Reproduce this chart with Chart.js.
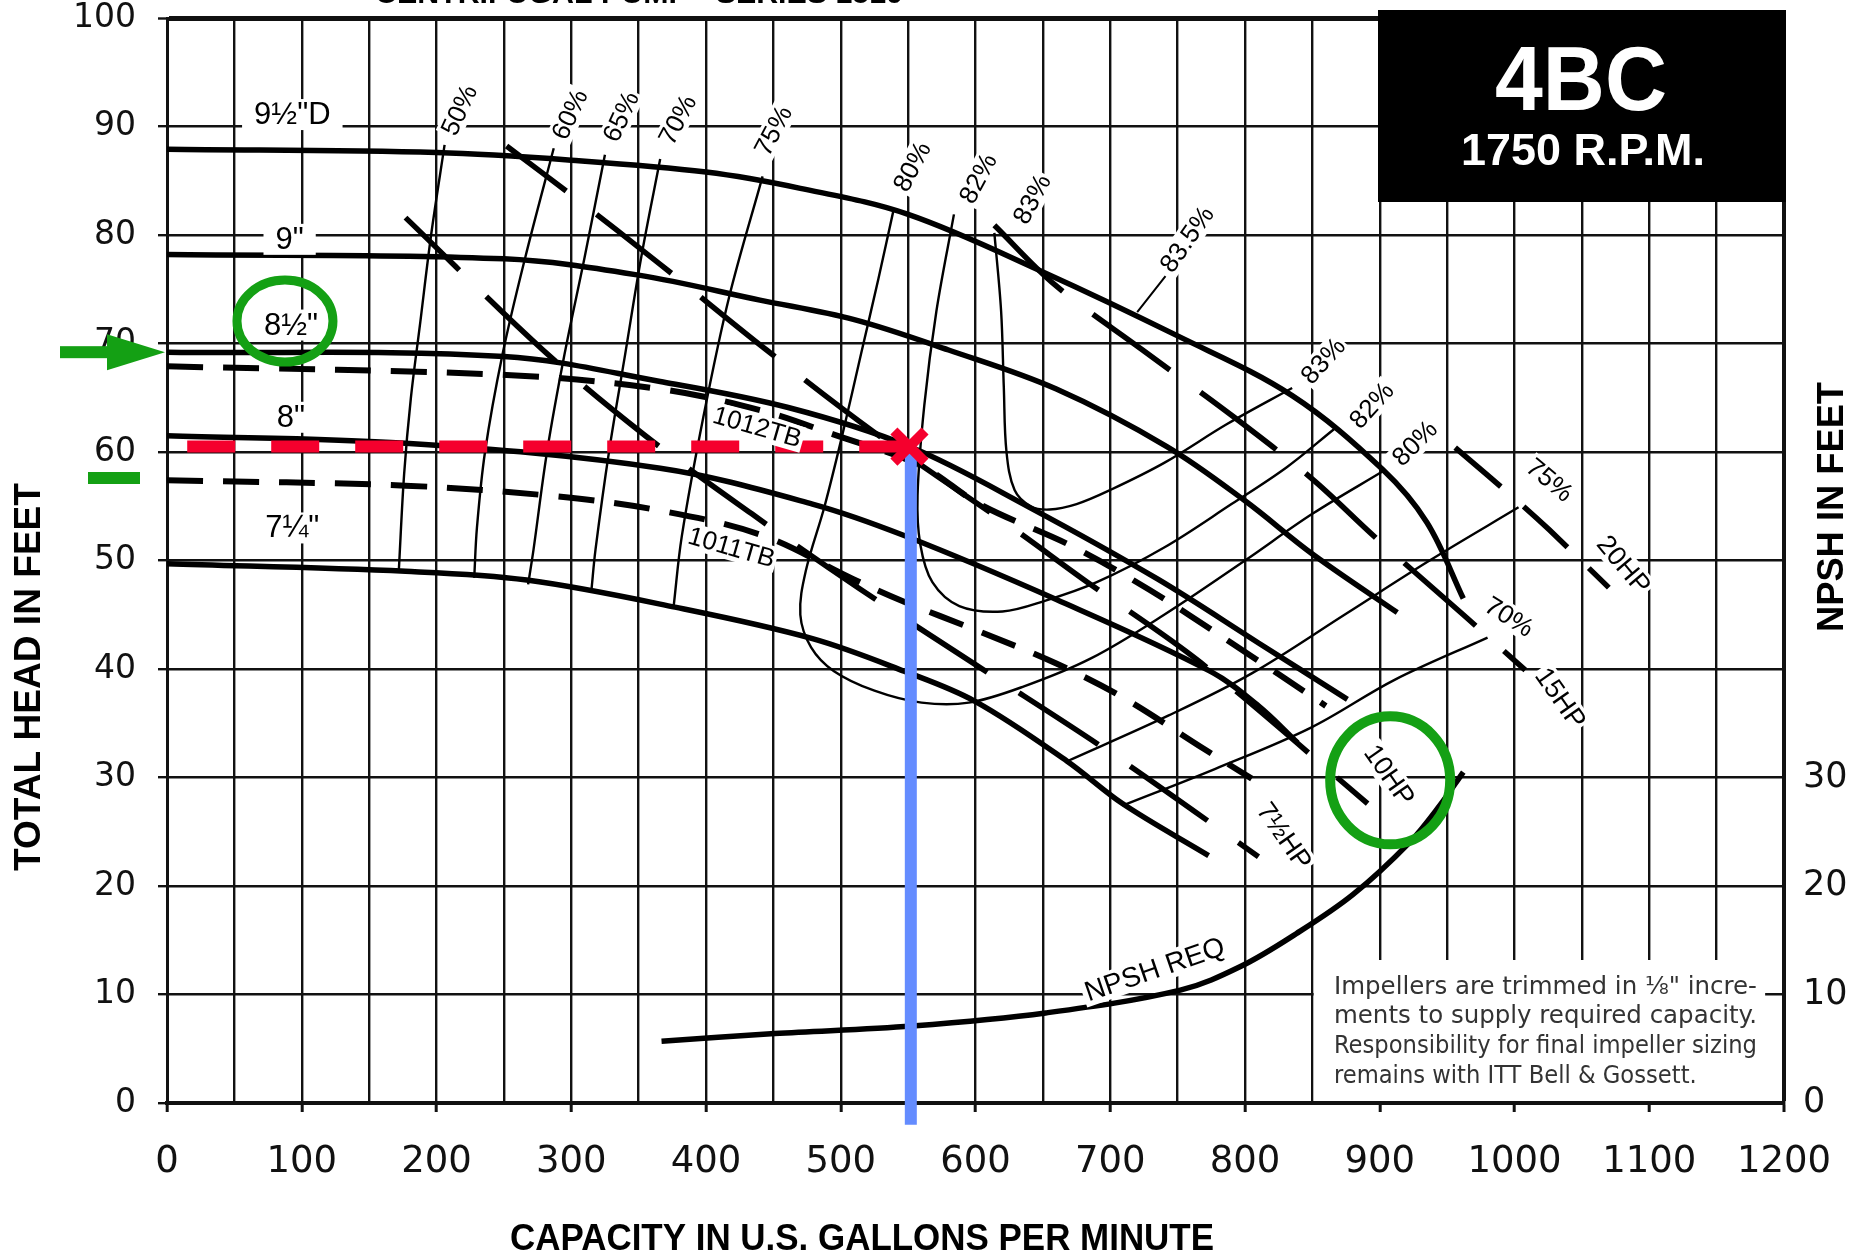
<!DOCTYPE html>
<html>
<head>
<meta charset="utf-8">
<script src="https://cdn.jsdelivr.net/npm/chart.js@4.4.1/dist/chart.umd.min.js"></script>
<style>
  html, body { margin: 0; padding: 0; background: #fff; }
  #wrap { width: 1870px; height: 1255px; }
</style>
</head>
<body>
<div id="wrap"><canvas id="pump" width="1870" height="1255"></canvas></div>
<script>
// grid / tick values
const gpmGrid = [0,50,100,150,200,250,300,350,400,450,500,550,600,650,700,750,800,850,900,950,1000,1050,1100,1150,1200];
const headGrid = [0,10,20,30,40,50,60,70,80,90,100];
const npshLabels = [0,10,20,30];

// impeller curves, [gpm, feet]
const imp950 = [[0,87.9],[200,87.6],[300,86.9],[400,85.8],[470,84.3],[550,81.9],[650,76.6],[750,70.7],[835,65.2],[902,58.4],[935,53.5],[962,46.5]];
const imp900 = [[0,78.2],[250,77.8],[350,76.3],[440,74.0],[510,72.2],[580,69.4],[660,65.8],[742,60.5],[800,55.5],[850,50.6],[913,45.2]];
const imp850 = [[0,69.2],[250,68.8],[366,66.5],[461,64.1],[551,60.5],[640,54.9],[735,48.3],[810,42.4],[876,37.2]];
const imp800 = [[0,61.5],[177,60.8],[366,58.5],[479,55.2],[547,52.3],[660,46.4],[774,39.8],[810,36.6],[839,33.2]];
const imp725 = [[0,49.7],[177,49.0],[267,48.2],[377,45.7],[479,42.8],[547,39.8],[600,37.0],[668,31.5],[709,27.6],[773,22.8]];
// trimmed impellers (dashed)
const trim1012 = [[0,67.9],[252,67.1],[366,65.8],[442,63.8],[495,61.6],[560,58.7],[603,55.2],[672,51.3],[729,47.3],[790,42.4],[860,36.6]];
const trim1011 = [[0,57.4],[177,56.9],[290,55.9],[366,54.6],[442,52.3],[509,48.3],[547,46.2],[600,43.6],[660,40.5],[709,37.4],[770,32.6],[805,29.9]];

// efficiency lines
const eff50 = [[206,88.3],[196,80],[188,72],[181,65],[176,58],[172,49]];
const eff60 = [[287,88.0],[266,78],[249,69],[236,60],[230,53],[228,48.4]];
const eff65 = [[325,87.4],[310,78],[295,69],[282,60],[272,51],[268,47.8]];
const eff70 = [[366,87.0],[352,78],[340,69],[328,60],[318,51],[315,47.3]];
const eff75 = [[442,85.4],[417,74.2],[398,63.2],[382,52.2],[376,45.8]];
const eff75r = [[668,31.5],[743,35.7],[805,39.6],[875,45.1],[937,50.0],[1003,54.9]];
const eff70r = [[709,27.4],[778,30.8],[849,34.6],[911,39.0],[980,42.9]];
const eff80 = [[539,82.2],[528,76],[515,69],[502,62],[488,55],[474,49],[470,45],[478,42],[495,39.8],[525,38],[560,36.9],[595,36.9],[636,38.4],[686,41],[740,45],[800,50],[850,54.3],[902,58.2]];
const eff82 = [[584,81.9],[571,73],[562,64.3],[557,56],[559,51.5],[568,48],[588,45.8],[620,45.3],[652,46.3],[690,48],[740,51.2],[790,55.2],[831,58.6],[866,62.1]];
const eff83 = [[614,80.2],[619,73],[621,66],[623,60],[629,56.5],[641,55],[655,54.7],[675,55.2],[700,56.5],[740,59],[787,62.6],[835,65.9]];
const eff835 = [[720,72.9],[741,76.2]];

// brake horsepower lines
const hp75 = [[177,81.6],[279,69.4],[355,61.5],[434,54.3],[514,47.4],[600,40.4],[700,32.3],[810,22.7]];
const hp10 = [[252,88.2],[301,83.6],[366,77.3],[445,69.4],[525,61.8],[623,53.4],[683,48.0],[767,40.6],[891,27.6]];
const hp15 = [[614,80.9],[659,75.4],[724,69.4],[792,63.2],[850,57.5],[897,52.1],[962,45.0],[1008,39.9]];
const hp20 = [[956,60.4],[1002,55.5],[1026,52.8],[1070,47.5]];

// NPSH required (right axis, feet)
const npshReq = [[367,5.7],[451,6.4],[553,7.1],[652,8.3],[752,10.4],[797,12.6],[838,15.6],[880,19.2],[922,24.0],[945,27.5],[962,30.5]];

// duty point
const dutyQ = 551;
const dutyH = 60.5;

// text on the curves: [text, gpm, feet, angle]
const sizeText = [['9½"D',93,91.1],['9"',91,79.6],['8½"',92,71.7],['8"',92,63.2],['7¼"',93,53.0]];
const effText = [
  ['50%',217,91.5,-65],['60%',299,91.1,-65],['65%',337,90.9,-65],['70%',379,90.6,-62],['75%',450,89.6,-62],
  ['80%',553,86.3,-62],['82%',602,85.2,-62],['83%',642,83.3,-62],['83.5%',757,79.6,-55],
  ['83%',858,68.4,-48],['82%',894,64.3,-48],['80%',926,60.8,-45],['75%',1026,57.4,40],['70%',996,44.8,32]
];
const hpText = [['20HP',1081,49.6,50],['15HP',1034,37.3,55],['10HP',907,30.2,55],['7½HP',829,24.6,55]];
const trimText = [['1012TB',438,62.3,16],['1011TB',419,51.2,16]];
const npshText = ['NPSH REQ',733,12.3,-19];

const pts = a => a.map(p => ({ x: p[0], y: p[1] }));
function line(arr, width, dash, offset) {
  return { data: pts(arr), borderColor: '#000', borderWidth: width, borderDash: dash || [],
           borderDashOffset: offset || 0, pointRadius: 0, fill: false, tension: 0.35, borderCapStyle: 'butt' };
}

const RED = '#f5002d', BLUE = '#648cff', GREEN = '#14a014';

const datasets = [
  { data: [{ x: dutyQ, y: dutyH }], showLine: false, pointStyle: 'crossRot', pointRadius: 22,
    pointBorderWidth: 10, pointBorderColor: RED, borderColor: RED },
  { data: [{ x: dutyQ + 1, y: dutyH }, { x: dutyQ + 1, y: -2 }], borderColor: BLUE, borderWidth: 12,
    pointRadius: 0, tension: 0, clip: false, borderCapStyle: 'butt' },
  { data: [{ x: 15, y: dutyH }, { x: dutyQ, y: dutyH }], borderColor: RED, borderWidth: 12,
    borderDash: [48, 36], pointRadius: 0, tension: 0, borderCapStyle: 'butt' },
  line(imp950, 5.5), line(imp900, 5.5), line(imp850, 5.5), line(imp800, 5.5), line(imp725, 5.5),
  line(trim1012, 6, [36, 20]), line(trim1011, 6, [36, 20]),
  line(eff50, 2.4), line(eff60, 2.4), line(eff65, 2.4), line(eff70, 2.4), line(eff75, 2.4),
  line(eff75r, 2.4), line(eff70r, 2.4), line(eff80, 2.4), line(eff82, 2.4), line(eff83, 2.4), line(eff835, 2),
  line(hp75, 5.5, [95, 38], 20), line(hp10, 5.5, [95, 38], 20), line(hp15, 5.5, [95, 38]), line(hp20, 5.5, [60, 30]),
  Object.assign(line(npshReq, 5.5), { yAxisID: 'npsh' })
];

function tag(ctx, text, x, y, angle, size, pad) {
  ctx.save();
  ctx.translate(x, y);
  ctx.rotate(angle * Math.PI / 180);
  ctx.font = size + 'px "Liberation Sans", Arial, sans-serif';
  const w = ctx.measureText(text).width;
  ctx.fillStyle = '#fff';
  ctx.fillRect(-w / 2 - pad, -size * 0.5, w + 2 * pad, size);
  ctx.fillStyle = '#000';
  ctx.textAlign = 'center';
  ctx.textBaseline = 'middle';
  ctx.fillText(text, 0, 1);
  ctx.restore();
}

// draw text squeezed/stretched to a given width
function fitText(ctx, text, x, y, width, font, angle, align) {
  ctx.save();
  ctx.translate(x, y);
  if (angle) ctx.rotate(angle * Math.PI / 180);
  ctx.font = font;
  const w = ctx.measureText(text).width;
  const k = width / w;
  ctx.scale(k, 1);
  ctx.textAlign = align || 'center';
  ctx.fillText(text, 0, 0);
  ctx.restore();
  return k;
}

// fixed axis sizes so the plot area sits where the scanned sheet has it
function fixBox(w, h) {
  return s => {
    if (w) s.width = w;
    if (h) s.height = h;
    s.paddingTop = 0; s.paddingBottom = 0; s.paddingLeft = 0; s.paddingRight = 0;
  };
}

const decor = {
  id: 'decor',
  beforeDatasetsDraw(chart) {
    const { ctx } = chart;
    const xs = chart.scales.x, ys = chart.scales.y;
    // white panel for the note
    ctx.save();
    ctx.fillStyle = '#fff';
    ctx.fillRect(xs.getPixelForValue(851), 960, xs.getPixelForValue(1186) - xs.getPixelForValue(851), ys.getPixelForValue(0) - 962);
    ctx.restore();
  },
  afterDatasetsDraw(chart) {
    const { ctx } = chart;
    const xs = chart.scales.x, ys = chart.scales.y;
    const X = v => xs.getPixelForValue(v), Y = v => ys.getPixelForValue(v);

    sizeText.forEach(t => tag(ctx, t[0], X(t[1]), Y(t[2]), 0, 31, 12));
    effText.forEach(t => tag(ctx, t[0], X(t[1]), Y(t[2]), t[3], 26, 2));
    hpText.forEach(t => tag(ctx, t[0], X(t[1]), Y(t[2]), t[3], 27, 2));
    trimText.forEach(t => tag(ctx, t[0], X(t[1]), Y(t[2]), t[3], 26, 2));
    tag(ctx, npshText[0], X(npshText[1]), Y(npshText[2]), npshText[3], 28, 3);

    // note
    ctx.save();
    ctx.fillStyle = '#333';
    const nf = '25px "Liberation Sans Narrow", "DejaVu Sans Condensed", sans-serif';
    const nx = X(866);
    fitText(ctx, 'Impellers are trimmed in ⅛" incre-', nx, 994, 423, nf, 0, 'left');
    fitText(ctx, 'ments to supply required capacity.', nx, 1023, 423, nf, 0, 'left');
    const k = fitText(ctx, 'Responsibility for final impeller sizing', nx, 1053, 423, nf, 0, 'left');
    ctx.font = nf;
    const w4 = ctx.measureText('remains with ITT Bell & Gossett.').width * k;
    fitText(ctx, 'remains with ITT Bell & Gossett.', nx, 1083, w4, nf, 0, 'left');
    ctx.restore();
  },
  afterDraw(chart) {
    const { ctx } = chart;
    const xs = chart.scales.x, ys = chart.scales.y;
    const X = v => xs.getPixelForValue(v), Y = v => ys.getPixelForValue(v);

    // model box
    ctx.save();
    ctx.fillStyle = '#000';
    ctx.fillRect(1378, 10, 408, 192);
    ctx.fillStyle = '#fff';
    fitText(ctx, '4BC', 1581, 110, 172, 'bold 90px "Liberation Sans", Arial, sans-serif');
    fitText(ctx, '1750 R.P.M.', 1583, 165, 244, 'bold 44px "Liberation Sans", Arial, sans-serif');
    ctx.restore();

    // axis titles
    ctx.save();
    ctx.fillStyle = '#000';
    const tf = 'bold 36px "Liberation Sans", Arial, sans-serif';
    ctx.textBaseline = 'middle';
    fitText(ctx, 'TOTAL HEAD IN FEET', 30, 677, 388, tf, -90);
    fitText(ctx, 'NPSH IN FEET', 1833, 507, 250, tf, -90);
    ctx.textBaseline = 'alphabetic';
    fitText(ctx, 'CAPACITY IN U.S. GALLONS PER MINUTE', 862, 1250, 704, tf, 0);
    fitText(ctx, 'CENTRIFUGAL PUMP - SERIES 1510', 639, 3, 528, 'bold 30px "Liberation Sans", Arial, sans-serif', 0);
    ctx.restore();

    // green marks
    ctx.save();
    ctx.strokeStyle = GREEN;
    ctx.fillStyle = GREEN;
    ctx.lineWidth = 9;
    ctx.beginPath();
    ctx.ellipse(X(sizeText[2][1]) - 6, Y(sizeText[2][2]) - 4, 48, 41, 0, 0, Math.PI * 2);
    ctx.stroke();
    ctx.lineWidth = 10;
    ctx.beginPath();
    ctx.ellipse(X(hpText[2][1]) + 1, Y(hpText[2][2]) + 5, 60, 64, 0, 0, Math.PI * 2);
    ctx.stroke();
    const ay = Y(imp850[0][1]);
    ctx.fillRect(60, ay - 6, 50, 12);
    ctx.beginPath();
    ctx.moveTo(107, ay - 18);
    ctx.lineTo(xs.left - 2, ay);
    ctx.lineTo(107, ay + 18);
    ctx.closePath();
    ctx.fill();
    ctx.fillRect(88, Y(60) + 20, 52, 12);
    ctx.restore();
  }
};

new Chart(document.getElementById('pump'), {
  type: 'line',
  data: { datasets },
  plugins: [decor],
  options: {
    responsive: false,
    animation: false,
    devicePixelRatio: 1,
    layout: { autoPadding: false, padding: { top: 18, left: 0, right: 0, bottom: 0 } },
    plugins: { legend: { display: false }, tooltip: { enabled: false } },
    scales: {
      x: {
        type: 'linear', min: 0, max: 1200,
        afterBuildTicks: s => { s.ticks = gpmGrid.map(v => ({ value: v })); },
        afterFit: fixBox(0, 152),
        ticks: {
          autoSkip: false, maxRotation: 0, padding: 32, color: '#111',
          font: { family: 'DejaVu Sans', size: 37, lineHeight: 1 },
          callback: v => (v % 100 === 0 ? String(v) : '')
        },
        grid: {
          color: '#111', tickLength: 9, tickWidth: 3,
          lineWidth: c => (c.tick && c.tick.value === 1200 ? 4 : 2.4),
          tickColor: c => (c.tick && c.tick.value % 100 === 0 ? '#111' : 'rgba(0,0,0,0)')
        },
        border: { color: '#111', width: 4 }
      },
      y: {
        type: 'linear', min: 0, max: 100, position: 'left',
        afterBuildTicks: s => { s.ticks = headGrid.map(v => ({ value: v })); },
        afterFit: fixBox(167, 0),
        ticks: { padding: 22, color: '#111', font: { family: 'DejaVu Sans', size: 33, lineHeight: 1 } },
        grid: {
          color: '#111', tickLength: 9, tickWidth: 2.4,
          lineWidth: c => (c.tick && c.tick.value === 100 ? 5 : 2.4)
        },
        border: { color: '#111', width: 3 }
      },
      npsh: {
        type: 'linear', min: 0, max: 100, position: 'right',
        afterBuildTicks: s => { s.ticks = headGrid.map(v => ({ value: v })); },
        afterFit: fixBox(86, 0),
        ticks: {
          padding: 19, color: '#111', font: { family: 'DejaVu Sans', size: 35, lineHeight: 1 },
          callback: v => (npshLabels.includes(v) ? String(v) : '')
        },
        grid: { drawOnChartArea: false, drawTicks: false },
        border: { display: false }
      }
    }
  }
});
</script>
</body>
</html>
